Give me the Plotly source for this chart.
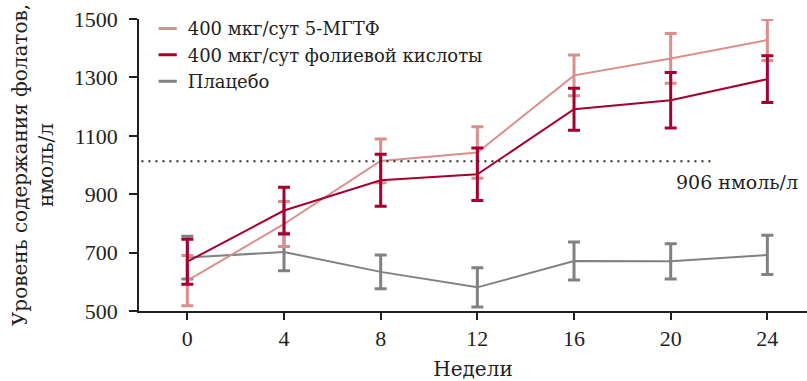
import plotly.graph_objects as go

# ---- data ----
weeks = [0, 4, 8, 12, 16, 20, 24]
mthf_name = "400 мкг/сут 5-МГТФ"
mthf = [604, 798, 1014, 1043, 1307, 1365, 1428]
mthf_err = [86, 77, 75, 88, 70, 85, 70]
folic_name = "400 мкг/сут фолиевой кислоты"
folic = [669, 844, 948, 968, 1191, 1222, 1294]
folic_err = [77, 80, 89, 90, 72, 95, 80]
placebo_name = "Плацебо"
placebo = [683, 702, 634, 581, 671, 670, 692]
placebo_err = [73, 64, 58, 67, 65, 60, 67]
y_ticks = [500, 700, 900, 1100, 1300, 1500]
threshold_value = 1013
threshold_label = "906 нмоль/л"
x_title = "Недели"
y_title = "Уровень содержания фолатов,<br>нмоль/л"

# ---- style ----
NUM_FONT = "Liberation Serif"
TXT_FONT = "DejaVu Serif"
TXT = "#231F20"
C_PINK = "#DB8F8C"
C_RED = "#A5002F"
C_GRAY = "#818184"

fig = go.Figure()

series = [
    (placebo_name, placebo, placebo_err, C_GRAY),
    (mthf_name, mthf, mthf_err, C_PINK),
    (folic_name, folic, folic_err, C_RED),
]
for name, vals, err, col in series:
    fig.add_trace(go.Scatter(
        x=weeks, y=vals, mode="lines", name=name, showlegend=False,
        line=dict(color=col, width=2),
        error_y=dict(type="data", array=err, visible=True, color=col,
                     thickness=3, width=6),
        cliponaxis=False, hoverinfo="skip",
    ))

for name, col in [(mthf_name, C_PINK), (folic_name, C_RED), (placebo_name, C_GRAY)]:
    fig.add_trace(go.Scatter(
        x=[None], y=[None], mode="markers", name=name, showlegend=True,
        marker=dict(symbol="line-ew", size=13, color=col,
                    line=dict(color=col, width=3)),
    ))

fig.add_shape(type="line", xref="x", yref="y", x0=-1.9, x1=21.65,
              y0=threshold_value, y1=threshold_value,
              line=dict(color="#2a2a2a", width=2, dash="2px,5px"))
fig.add_annotation(x=25.36, y=943, xref="x", yref="y", text=threshold_label,
                   showarrow=False, xanchor="right", yanchor="middle",
                   font=dict(family=TXT_FONT, size=19, color=TXT))

fig.update_layout(
    width=807, height=381,
    margin=dict(l=139, r=0, t=19, b=70, autoexpand=False),
    plot_bgcolor="white", paper_bgcolor="white",
    font=dict(family=TXT_FONT, size=20, color=TXT),
    legend=dict(x=0.013, y=1.03, xanchor="left", yanchor="top",
                bgcolor="rgba(0,0,0,0)", font=dict(family=TXT_FONT, size=18, color=TXT),
                traceorder="normal"),
    showlegend=True,
)
fig.update_xaxes(
    range=[-2.0, 25.64], tickvals=weeks, ticktext=[str(w) for w in weeks],
    automargin=False,
    showline=True, linecolor=TXT, linewidth=1.5, ticks="outside", ticklen=7,
    tickwidth=1.5, tickcolor=TXT, showgrid=False, zeroline=False,
    tickfont=dict(family=NUM_FONT, size=22, color=TXT), ticklabelstandoff=0,
    title=dict(text=x_title, standoff=17, font=dict(family=TXT_FONT, size=20, color=TXT)),
)
fig.update_yaxes(
    range=[500, 1500], tickvals=y_ticks, automargin=False,
    showline=True, linecolor=TXT, linewidth=1.5, ticks="outside", ticklen=8,
    tickwidth=1.5, tickcolor=TXT, showgrid=False, zeroline=False,
    tickfont=dict(family=NUM_FONT, size=22, color=TXT), ticklabelstandoff=7,
    title=dict(text=y_title, standoff=15, font=dict(family=TXT_FONT, size=20, color=TXT)),
)

fig.write_html("out.html", config={"displayModeBar": False},
               post_script="document.body.style.margin='0';document.body.style.padding='0';")
